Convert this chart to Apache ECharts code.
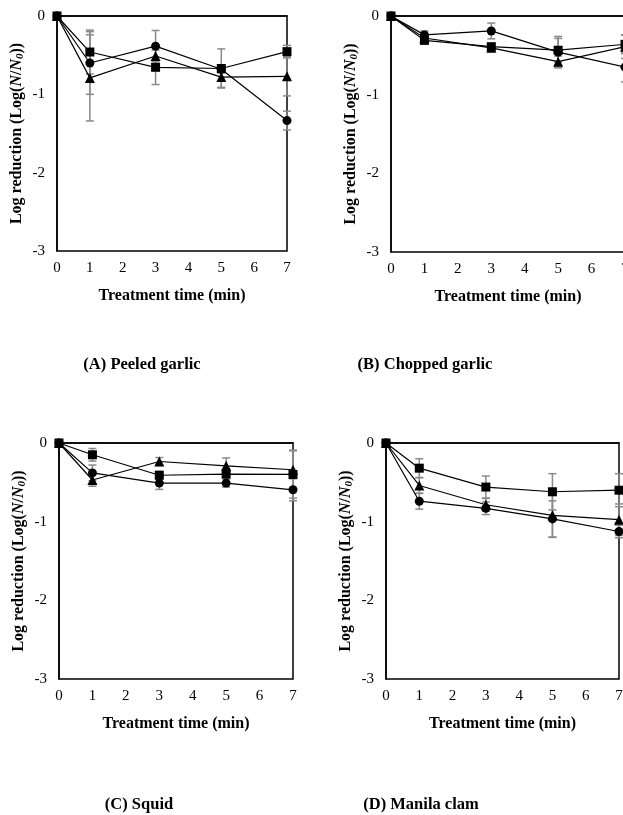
<!DOCTYPE html>
<html><head><meta charset="utf-8">
<script src="https://cdn.jsdelivr.net/npm/echarts@6/dist/echarts.min.js"></script>
<style>html,body{margin:0;padding:0;background:#fff}#c{width:623px;height:815px}</style>
</head><body><div id="c"></div>
<script>
const timeMin = [0, 1, 3, 5, 7];
const xTicks = [0, 1, 2, 3, 4, 5, 6, 7];
const yTicks = [0, -1, -2, -3];
const panelTitles = ['(A) Peeled garlic', '(B) Chopped garlic', '(C) Squid', '(D) Manila clam'];

// (A) Peeled garlic
const A_square = [0, -0.46, -0.655, -0.67, -0.455];
const A_circle = [0, -0.60, -0.385, -0.68, -1.335];
const A_triangle = [0, -0.79, -0.51, -0.78, -0.77];
const A_square_sd = [0, 0.28, 0.22, 0.25, 0.08];
const A_circle_sd = [0, 0.40, 0.20, 0.05, 0.12];
const A_triangle_sd = [0, 0.55, 0.12, 0.13, 0.25];

// (B) Chopped garlic
const B_square = [0, -0.31, -0.39, -0.435, -0.36];
const B_circle = [0, -0.24, -0.19, -0.46, -0.65];
const B_triangle = [0, -0.28, -0.405, -0.58, -0.39];
const B_square_sd = [0, 0.04, 0.03, 0.15, 0.12];
const B_circle_sd = [0, 0.05, 0.10, 0.20, 0.19];
const B_triangle_sd = [0, 0.05, 0.03, 0.07, 0.15];

// (C) Squid
const C_square = [0, -0.15, -0.41, -0.395, -0.40];
const C_circle = [0, -0.38, -0.51, -0.51, -0.595];
const C_triangle = [0, -0.47, -0.235, -0.29, -0.34];
const C_square_sd = [0, 0.08, 0.05, 0.05, 0.30];
const C_circle_sd = [0, 0.10, 0.08, 0.05, 0.14];
const C_triangle_sd = [0, 0.08, 0.05, 0.10, 0.25];

// (D) Manila clam
const D_square = [0, -0.32, -0.56, -0.62, -0.60];
const D_circle = [0, -0.74, -0.83, -0.965, -1.125];
const D_triangle = [0, -0.54, -0.785, -0.92, -0.975];
const D_square_sd = [0, 0.12, 0.14, 0.23, 0.21];
const D_circle_sd = [0, 0.10, 0.08, 0.23, 0.08];
const D_triangle_sd = [0, 0.10, 0.08, 0.28, 0.20];

const panelData = [
  [[A_square, A_square_sd], [A_circle, A_circle_sd], [A_triangle, A_triangle_sd]],
  [[B_square, B_square_sd], [B_circle, B_circle_sd], [B_triangle, B_triangle_sd]],
  [[C_square, C_square_sd], [C_circle, C_circle_sd], [C_triangle, C_triangle_sd]],
  [[D_square, D_square_sd], [D_circle, D_circle_sd], [D_triangle, D_triangle_sd]]
];
const symbols = [['rect', 9], ['circle', 9], ['triangle', 10]];

const grids = [
  {left: 57, top: 16, width: 230, height: 235},
  {left: 391, top: 16, width: 234, height: 236},
  {left: 59, top: 443, width: 234, height: 236},
  {left: 386, top: 443, width: 233, height: 236}
];
const titlePos = [[142, 365], [425, 365], [139, 805], [421, 805]];

const FONT = 'Liberation Serif';
const option = {
  animation: false,
  backgroundColor: '#fff',
  grid: grids.map(g => Object.assign({show: true, borderColor: '#000', borderWidth: 1.5,
    containLabel: false, outerBoundsMode: 'none'}, g)),
  xAxis: grids.map((g, i) => ({
    gridIndex: i, type: 'value', min: 0, max: 7, interval: 1,
    axisLine: {show: true, lineStyle: {color: '#000', width: 1.5}},
    axisTick: {show: false}, splitLine: {show: false},
    axisLabel: {color: '#000', fontFamily: FONT, fontSize: 15, margin: 10,
      formatter: v => xTicks.includes(v) ? String(v) : ''},
    name: 'Treatment time (min)', nameLocation: 'middle', nameGap: 37,
    nameTextStyle: {color: '#000', fontFamily: FONT, fontSize: 16, fontWeight: 'bold'}
  })),
  yAxis: grids.map((g, i) => ({
    gridIndex: i, type: 'value', min: -3, max: 0, interval: 1,
    axisLine: {show: true, onZero: false, lineStyle: {color: '#000', width: 1.5}},
    axisTick: {show: false}, splitLine: {show: false},
    axisLabel: {color: '#000', fontFamily: FONT, fontSize: 15, margin: 12,
      formatter: v => yTicks.includes(v) ? String(v) : ''},
    name: '{b|Log reduction (Log(}{i|N}{b|/}{i|N}{s|0}{b|))}',
    nameLocation: 'middle', nameGap: 31,
    nameTextStyle: {color: '#000', fontFamily: FONT, fontSize: 16, fontWeight: 'bold',
      rich: {
        b: {fontFamily: FONT, fontSize: 16, fontWeight: 'bold', color: '#000'},
        i: {fontFamily: FONT, fontSize: 16, fontWeight: 'bold', fontStyle: 'italic', color: '#000'},
        s: {fontFamily: FONT, fontSize: 11, fontWeight: 'bold', fontStyle: 'italic', color: '#000', padding: [8, 0, 0, 0]}
      }}
  })),
  graphic: panelTitles.map((t, i) => ({
    type: 'text', x: titlePos[i][0], y: titlePos[i][1],
    style: {text: t, fontFamily: FONT, fontSize: 16.5, fontWeight: 'bold', fill: '#000',
      textAlign: 'center', textVerticalAlign: 'middle'}
  })),
  series: []
};

panelData.forEach((pd, p) => {
  pd.forEach((sd, k) => {
    const vals = sd[0], errs = sd[1];
    option.series.push({
      type: 'custom', xAxisIndex: p, yAxisIndex: p, z: 1, silent: true,
      data: timeMin.map((t, j) => [t, vals[j] - errs[j], vals[j] + errs[j]]).filter((d, j) => errs[j] > 0),
      renderItem: (params, api) => {
        const lo = api.coord([api.value(0), api.value(1)]);
        const hi = api.coord([api.value(0), api.value(2)]);
        const w = 4;
        const st = {stroke: '#8a8a8a', lineWidth: 1.5};
        return {type: 'group', children: [
          {type: 'line', shape: {x1: lo[0], y1: lo[1], x2: hi[0], y2: hi[1]}, style: st},
          {type: 'line', shape: {x1: lo[0] - w, y1: lo[1], x2: lo[0] + w, y2: lo[1]}, style: st},
          {type: 'line', shape: {x1: hi[0] - w, y1: hi[1], x2: hi[0] + w, y2: hi[1]}, style: st}
        ]};
      }
    });
    option.series.push({
      type: 'line', xAxisIndex: p, yAxisIndex: p, z: 3,
      data: timeMin.map((t, j) => [t, vals[j]]),
      symbol: symbols[k][0], symbolSize: symbols[k][1], showSymbol: true,
      lineStyle: {color: '#000', width: 1.2},
      itemStyle: {color: '#000', borderWidth: 0}
    });
  });
});

const chart = echarts.init(document.getElementById('c'), null, {renderer: 'canvas'});
chart.setOption(option);
</script></body></html>
